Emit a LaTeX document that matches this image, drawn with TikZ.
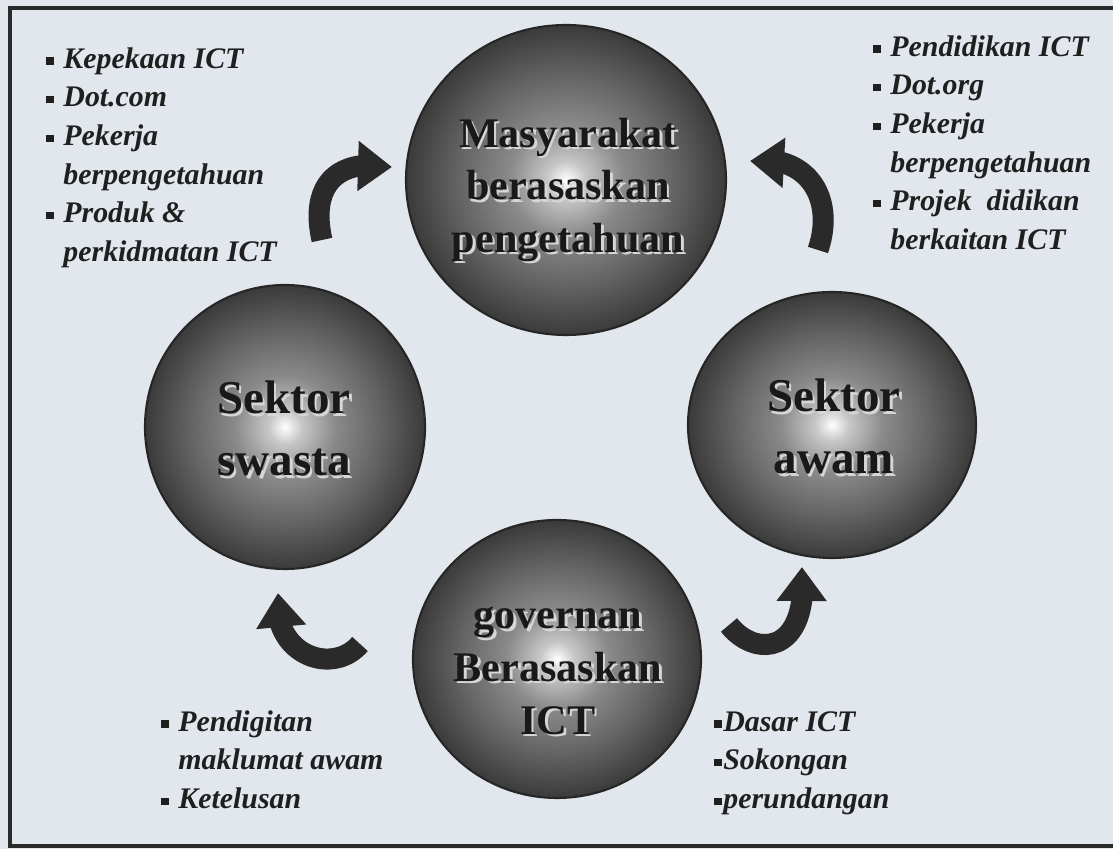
\documentclass[tikz,border=0pt]{standalone}
\usepackage{fontspec}
\setmainfont{Liberation Serif}
\usepackage{tikz}
\usepackage{xcolor}
\usetikzlibrary{arrows.meta,bending}
\definecolor{paper}{HTML}{E2E6ED}
\definecolor{ink}{HTML}{2A2A2A}
\definecolor{shine}{HTML}{D6D6D6}

\pgfdeclareradialshading{sphere}{\pgfpoint{0bp}{0bp}}{%
  color(0bp)=(white);
  color(3bp)=(black!22);
  color(9bp)=(black!46);
  color(17bp)=(black!61);
  color(25bp)=(black!77);
  color(50bp)=(black!77)}

\newcommand{\emb}[1]{\makebox[0pt][l]{\hspace{0.7pt}\raisebox{-0.7pt}{\color{shine}#1}}#1}
\newcommand{\bul}[1][0.57em]{\makebox[#1][l]{\rule{0pt}{0.75em}\rule[0.12em]{0.25em}{0.25em}}}
\newcommand{\ind}{\hspace*{0.57em}}

\begin{document}
\begin{tikzpicture}[
    line width=0.8pt,
    >={Triangle[width=0.48cm,length=0.34cm]},
    ball/.style={shading=sphere, draw=black!85, line width=0.6pt},
    balltext/.style={align=center, text=black!90, inner sep=0pt,
        font=\bfseries\fontsize{12}{15}\selectfont},
    bigtext/.style={balltext, font=\bfseries\fontsize{13.4}{17.6}\selectfont},
    list/.style={align=left, anchor=north west, inner sep=0pt, text=black!88,
        font=\bfseries\itshape\fontsize{8.5}{11}\selectfont},
    curl/.style={->, draw=ink, line width=0.21cm}
]
\useasboundingbox (0,0) rectangle (11.13,8.49);
\fill[paper] (0,0) rectangle (11.13,8.49);
\draw[ink, line width=1pt] (0.10,0.03) rectangle (11.30,8.41);

%====================================================
% SFERA
%====================================================
\shadedraw[ball] (5.66,6.69) ellipse (1.60 and 1.55);
\node[balltext] (masy) at (5.68,6.58) {\emb{Masyarakat}\\\emb{berasaskan}\\\emb{pengetahuan}};

\shadedraw[ball] (2.85,4.22) ellipse (1.40 and 1.42);
\node[bigtext] (swasta) at (2.84,4.19) {\emb{Sektor}\\\emb{swasta}};

\shadedraw[ball] (8.32,4.24) ellipse (1.44 and 1.33);
\node[bigtext] (awam) at (8.34,4.21) {\emb{Sektor}\\\emb{awam}};

\shadedraw[ball] (5.57,1.90) ellipse (1.44 and 1.39);
\node[balltext] (gov) at (5.58,1.77) {\emb{governan}\\\emb{Berasaskan}\\\emb{ICT}};

%====================================================
% ANAK PANAH
%====================================================
\coordinate (tl-tail) at (3.22,6.09);
\coordinate (tl-head) at (3.92,6.82);
\coordinate (tr-tail) at (8.18,5.99);
\coordinate (tr-head) at (7.50,6.88);
\coordinate (br-tail) at (7.29,2.24);
\coordinate (br-head) at (8.02,2.82);
\coordinate (bl-tail) at (3.60,2.05);
\coordinate (bl-head) at (2.78,2.56);

\draw[curl] (tl-tail) .. controls (3.10,6.62) and (3.35,6.92) .. (tl-head);
\draw[curl] (tr-tail) .. controls (8.36,6.52) and (8.06,6.96) .. (tr-head);
\draw[curl] (br-tail) .. controls (7.56,1.90) and (8.10,1.95) .. (br-head);
\draw[curl] (bl-tail) .. controls (3.32,1.72) and (2.70,1.95) .. (bl-head);

%====================================================
% SENARAI
%====================================================
\node[list] (kepekaan) at (0.45,8.045) {%
    \bul Kepekaan ICT\\
    \bul Dot.com\\
    \bul Pekerja\\
    \ind berpengetahuan\\
    \bul Produk \&\\
    \ind perkidmatan ICT};

\node[list] (pendidikan) at (8.72,8.165) {%
    \bul Pendidikan ICT\\
    \bul Dot.org\\
    \bul Pekerja\\
    \ind berpengetahuan\\
    \bul Projek\ \ didikan\\
    \ind berkaitan ICT};

\node[list] (pendigitan) at (1.60,1.415) {%
    \bul Pendigitan\\
    \ind maklumat awam\\
    \bul Ketelusan};

\node[list] (dasar) at (7.13,1.415) {%
    \bul[0.3em]Dasar ICT\\
    \bul[0.3em]Sokongan\\
    \bul[0.3em]perundangan};
\end{tikzpicture}
\end{document}
